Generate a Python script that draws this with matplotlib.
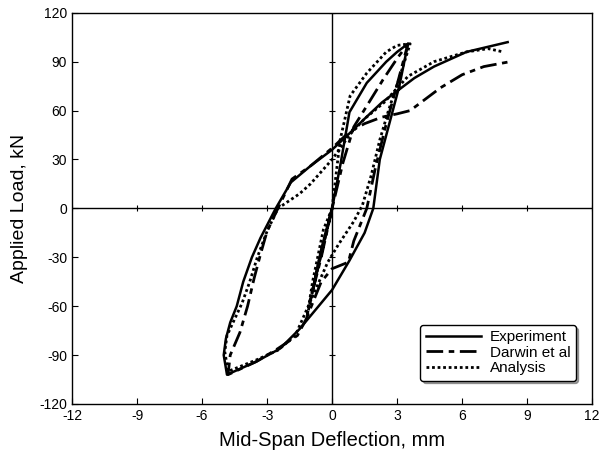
import matplotlib
matplotlib.use("Agg")
import matplotlib.pyplot as plt
import numpy as np

plt.rcParams['font.family'] = ['Liberation Sans', 'DejaVu Sans']
plt.rcParams['axes.unicode_minus'] = False

# Experiment (solid)
exp_x = [0.0, -0.5, -0.9, -0.5, 0.0, 0.4, 0.8, 1.6, 2.5, 3.0, 3.5,
         3.1, 2.6, 2.2, 1.9, 1.5, 0.8, 0.0, -1.5, -2.4, -3.5, -4.85,
         -5.0, -4.9, -4.7, -4.4, -4.1, -3.7, -3.3, -2.6, -1.9, -1.0, 0.0, 0.8, 1.5, 2.3, 3.1, 3.8, 4.7, 6.2, 8.1]
exp_y = [0.0, -28, -50, -25, 0.0, 28, 59, 77, 90, 96, 101,
         75, 50, 30, 0, -15, -32, -50, -74, -86, -94, -102,
         -90, -80, -70, -60, -45, -30, -18, 0, 16, 26, 36, 46, 55, 65, 73, 80, 87, 96, 102]

# Darwin et al (dash-dot)
dar_x = [0.0, -0.5, -1.0, -0.5, 0.0, 0.5, 1.0, 1.7, 2.35, 3.0, 3.5,
         3.0, 2.5, 2.0, 1.6, 1.0, 0.75, 0.0, -0.5, -1.2, -1.6, -2.5, -3.5, -4.8,
         -4.7, -4.25, -3.9, -3.6, -3.3, -3.0, -2.5, -1.85, -1.0, 0.0, 0.8, 1.5, 2.3, 3.0, 3.6, 4.3, 5.0, 6.0, 7.0, 8.2]
dar_y = [0.0, -30, -56, -28, 0.0, 28, 50, 65, 79, 92, 101,
         76, 52, 25, 0, -20, -33, -37, -45, -68, -78, -86, -94, -102,
         -90, -76, -60, -43, -28, -14, 0, 18, 26, 37, 47, 52, 56, 58, 60, 67, 74, 82, 87, 90]

# Analysis (dotted)
ana_x = [0.0, -0.4, -0.9, -1.15, -0.6, 0.0, 0.37, 0.83, 1.6, 2.5, 3.0, 3.6,
         3.1, 2.6, 2.2, 1.8, 1.4, 1.0, 0.3, -0.2, -0.7, -1.3, -1.7, -2.5, -3.5, -4.8,
         -4.95, -4.85, -4.5, -4.15, -3.8, -3.45, -3.0, -2.5, -1.5, -1.0, 0.0, 0.8, 1.5, 2.4, 3.5, 4.7, 6.2, 7.2, 7.9]
ana_y = [0.0, -13, -45, -66, -32, 0.0, 42, 69, 83, 96, 100, 101,
         80, 60, 42, 20, 2, -8, -22, -33, -48, -66, -78, -87, -93, -100,
         -88, -78, -68, -58, -45, -30, -14, 0, 9, 15, 30, 45, 55, 65, 81, 90, 96, 98, 96]

xticks = [-12, -9, -6, -3, 0, 3, 6, 9, 12]
yticks = [-120, -90, -60, -30, 0, 30, 60, 90, 120]

fig = plt.figure(figsize=(6.0, 4.57), dpi=100)
ax = fig.add_axes([0.12, 0.116, 0.867, 0.856])

ax.axhline(0, color='black', lw=1.0, zorder=1)
ax.axvline(0, color='black', lw=1.0, zorder=1)
# tick marks on the zero lines
ax.plot(xticks, [0] * len(xticks), ls='none', marker='|', ms=5, color='black', mew=0.8, zorder=1)
ax.plot([0] * len(yticks), yticks, ls='none', marker='_', ms=5, color='black', mew=0.8, zorder=1)

ax.plot(exp_x, exp_y, color='black', lw=1.8, ls='-', label='Experiment', zorder=3)
ax.plot(dar_x, dar_y, color='black', lw=2.0, ls=(0, (6, 2, 2, 2)), label='Darwin et al', zorder=3)
ax.plot(ana_x, ana_y, color='black', lw=2.0, ls=(0, (1, 1)), label='Analysis', zorder=3)

ax.set_xlim(-12, 12)
ax.set_ylim(-120, 120)
ax.set_xticks(xticks)
ax.set_yticks(yticks)
ax.tick_params(direction='in', length=4, labelsize=10, colors='black')
for s in ax.spines.values():
    s.set_linewidth(1.0)

ax.set_xlabel('Mid-Span Deflection, mm', fontsize=14.5, labelpad=6)
ax.set_ylabel('Applied Load, kN', fontsize=14, labelpad=8)

leg = ax.legend(loc='lower right', bbox_to_anchor=(0.983, 0.04), fontsize=11,
                frameon=True, fancybox=True, shadow=True, handlelength=3.6,
                labelspacing=0.1, borderpad=0.35, handletextpad=0.6)
leg.get_frame().set_edgecolor('black')
leg.get_frame().set_linewidth(1.0)

fig.savefig('out.png', dpi=100)
